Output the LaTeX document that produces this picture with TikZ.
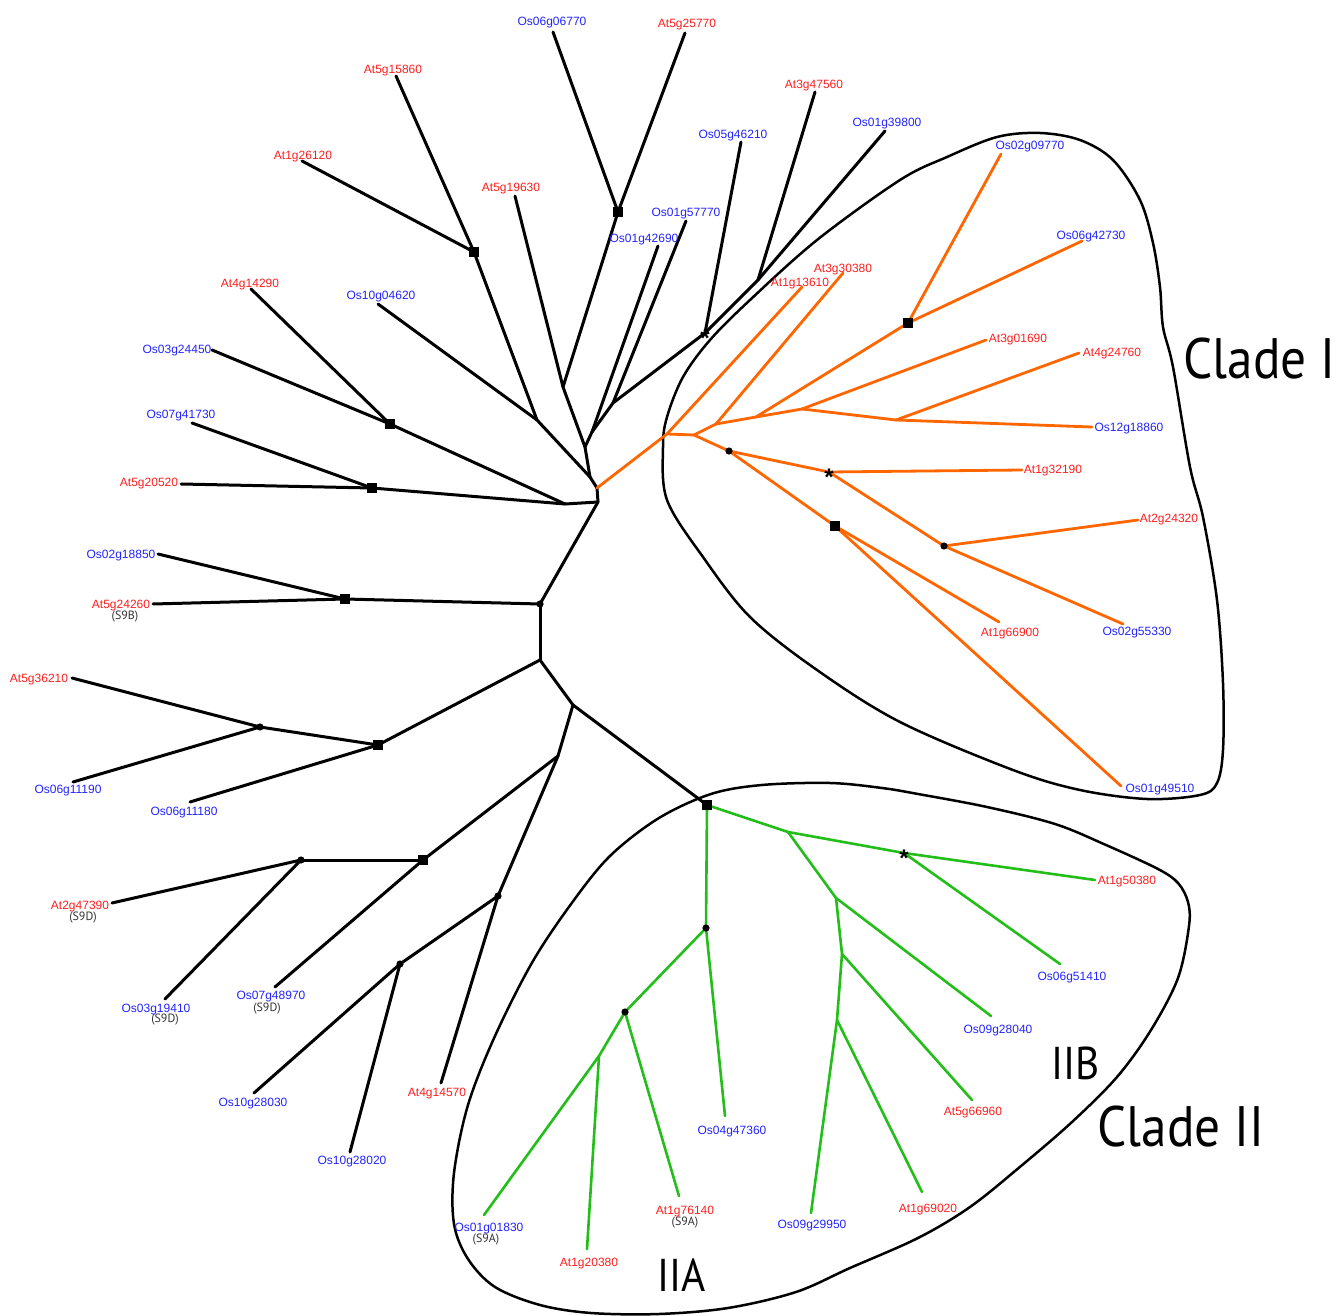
\documentclass[tikz,border=0pt]{standalone}
\usepackage{fontspec}
\usepackage{graphicx}
\setmainfont{Liberation Sans}
\newfontfamily\cladefont{PT Sans}
\definecolor{clred}{RGB}{255,30,30}
\definecolor{clblue}{RGB}{35,35,255}
\definecolor{clorange}{RGB}{255,102,0}
\definecolor{clgreen}{RGB}{35,190,25}
\definecolor{clgray}{RGB}{50,50,50}
\newcommand{\AtL}[2]{\node[lab,text=clred] (t#1) at (#2) {#1};}
\newcommand{\OsL}[2]{\node[lab,text=clblue] (t#1) at (#2) {#1};}
\newcommand{\SubL}[3]{\node[sublab] (#1) at (#2) {(#3)};}
\begin{document}
\begin{tikzpicture}[x=0.5pt,y=-0.5pt,
  br/.style={line width=1.5pt,black,line cap=round,line join=round},
  obr/.style={line width=1.4pt,clorange,line cap=round,line join=round},
  gbr/.style={line width=1.3pt,clgreen,line cap=round,line join=round},
  outl/.style={line width=1.25pt,black},
  sqm/.style={rectangle,fill=black,minimum size=5pt,inner sep=0pt},
  dtm/.style={circle,fill=black,minimum size=3.6pt,inner sep=0pt},
  astm/.style={font=\fontsize{12}{12}\selectfont\bfseries,inner sep=0pt,anchor=base,yshift=-6.6pt},
  lab/.style={font=\fontsize{6}{7}\selectfont,inner sep=0pt,text height=0.716em,text depth=0pt,anchor=center,yshift=1.5pt},
  sublab/.style={font=\cladefont\fontsize{6}{7}\selectfont,text=clgray,inner sep=0pt,anchor=center},
  bigl/.style={font=\cladefont\fontsize{28.5}{30}\selectfont,inner sep=0pt,anchor=base west},
  midl/.style={font=\cladefont\fontsize{23}{25}\selectfont,inner sep=0pt,anchor=base west}]
\useasboundingbox (0,0) rectangle (1335,1316);

% ---------- clade outlines ----------
\draw[outl] plot[smooth cycle,tension=0.55] coordinates {(663,447) (667,500) (703,557) (750,617) (817,670) (900,722) (1013,770) (1080,790) (1147,799) (1200,795) (1217,783) (1223,750) (1223,683) (1217,600) (1203,517) (1190,467) (1173,367) (1163,327) (1160,287) (1153,243) (1140,200) (1113,160) (1080,140) (1040,133) (997,137) (947,157) (900,180) (817,240) (750,300) (710,340) (683,377) (667,417)};
\draw[outl] plot[smooth cycle,tension=0.55] coordinates {(659,818) (711,794) (762,785) (830,783) (882,788) (918,794) (987,807) (1055,824) (1106,845) (1158,869) (1178,883) (1188,902) (1189,926) (1178,978) (1151,1030) (1117,1077) (1072,1122) (1021,1166) (970,1207) (918,1238) (850,1268) (796,1292) (728,1308) (659,1314) (591,1313) (540,1305) (495,1287) (468,1259) (454,1224) (454,1173) (468,1105) (495,1036) (533,961) (574,900) (611,855)};

% ---------- internal coordinates ----------
\coordinate (A) at (598,502);   \coordinate (B) at (597,488);
\coordinate (J) at (590,477);   \coordinate (I) at (585,447);
\coordinate (H) at (592,432);   \coordinate (K) at (563,387);
\coordinate (L) at (537,420);   \coordinate (M) at (613,403);
\coordinate (N) at (705,333);   \coordinate (P) at (758,280);
\coordinate (Q) at (565,504);   \coordinate (D) at (540,604);
\coordinate (E) at (540,660);   \coordinate (F) at (573,705);
\coordinate (G) at (558,756);
\coordinate (sq1) at (618,212); \coordinate (sq2) at (474,252);
\coordinate (sq3) at (390,424); \coordinate (sq4) at (372,488);
\coordinate (sq5) at (345,599); \coordinate (sq6) at (378,745);
\coordinate (d1) at (260,727);  \coordinate (sq7) at (423,860);
\coordinate (d2) at (301,860);  \coordinate (d3) at (498,896);
\coordinate (d4) at (400,964);  \coordinate (sqG) at (707,805);
% orange
\coordinate (O1) at (667,434);  \coordinate (O2) at (694,435);
\coordinate (O3) at (716,424);  \coordinate (O4) at (756,417);
\coordinate (O5) at (802,409);  \coordinate (O6) at (896,420);
\coordinate (sqO) at (908,323); \coordinate (dO1) at (729,451);
\coordinate (astO) at (829,472);\coordinate (dO2) at (944,546);
\coordinate (sqO2) at (835,526);
% green
\coordinate (G1) at (788,832);  \coordinate (astG) at (904,853);
\coordinate (G2) at (836,898);  \coordinate (G3) at (842,954);
\coordinate (G4) at (837,1020); \coordinate (dG1) at (706,928);
\coordinate (dG2) at (625,1012);\coordinate (G5) at (599,1056);

% ---------- leaf ends ----------
\coordinate (eOs06g06770) at (553,32);
\coordinate (eAt5g25770) at (685,33);
\coordinate (eAt5g15860) at (396,76);
\coordinate (eAt1g26120) at (302,161);
\coordinate (eAt5g19630) at (515,196);
\coordinate (eOs01g57770) at (686,221);
\coordinate (eOs01g42690) at (658,246);
\coordinate (eOs05g46210) at (741,142);
\coordinate (eAt3g47560) at (815,92);
\coordinate (eOs01g39800) at (885,131);
\coordinate (eOs10g04620) at (378,304);
\coordinate (eAt4g14290) at (251,289);
\coordinate (eOs03g24450) at (212,350);
\coordinate (eOs07g41730) at (192,423);
\coordinate (eAt5g20520) at (181,484);
\coordinate (eOs02g18850) at (158,554);
\coordinate (eAt5g24260) at (153,604);
\coordinate (eAt5g36210) at (72,678);
\coordinate (eOs06g11190) at (73,782);
\coordinate (eOs06g11180) at (190,802);
\coordinate (eAt2g47390) at (112,903);
\coordinate (eOs03g19410) at (165,999);
\coordinate (eOs07g48970) at (275,987);
\coordinate (eOs10g28030) at (254,1093);
\coordinate (eOs10g28020) at (350,1152);
\coordinate (eAt4g14570) at (441,1083);
\coordinate (eAt1g13610) at (802,287);
\coordinate (eAt3g30380) at (843,273);
\coordinate (eOs02g09770) at (1001,154);
\coordinate (eOs06g42730) at (1082,241);
\coordinate (eAt3g01690) at (986,340);
\coordinate (eAt4g24760) at (1079,353);
\coordinate (eOs12g18860) at (1092,427);
\coordinate (eAt1g32190) at (1022,470);
\coordinate (eAt2g24320) at (1138,520);
\coordinate (eOs02g55330) at (1123,624);
\coordinate (eAt1g66900) at (999,622);
\coordinate (eOs01g49510) at (1121,786);
\coordinate (eAt1g50380) at (1095,880);
\coordinate (eOs06g51410) at (1060,964);
\coordinate (eOs09g28040) at (991,1016);
\coordinate (eAt5g66960) at (972,1100);
\coordinate (eAt1g69020) at (922,1192);
\coordinate (eOs09g29950) at (811,1213);
\coordinate (eOs04g47360) at (725,1116);
\coordinate (eAt1g76140) at (679,1196);
\coordinate (eAt1g20380) at (587,1249);
\coordinate (eOs01g01830) at (484,1215);

% ---------- branches ----------
\foreach \u/\v in {A/B, B/J, J/I, J/L, I/K, I/H, H/eOs01g42690, H/M, M/eOs01g57770, M/N,
  N/eOs05g46210, N/P, P/eAt3g47560, P/eOs01g39800, K/eAt5g19630, K/sq1,
  sq1/eOs06g06770, sq1/eAt5g25770, L/sq2, L/eOs10g04620, sq2/eAt5g15860, sq2/eAt1g26120,
  A/Q, Q/sq3, Q/sq4, sq3/eOs03g24450, sq3/eAt4g14290, sq4/eOs07g41730, sq4/eAt5g20520,
  A/D, D/sq5, sq5/eOs02g18850, sq5/eAt5g24260, D/E, E/sq6, sq6/d1, d1/eAt5g36210,
  d1/eOs06g11190, sq6/eOs06g11180, E/F, F/G, F/sqG, G/sq7, sq7/d2, d2/eAt2g47390,
  d2/eOs03g19410, sq7/eOs07g48970, G/d3, d3/eAt4g14570, d3/d4, d4/eOs10g28030, d4/eOs10g28020}
  \draw[br] (\u) -- (\v);
\foreach \u/\v in {B/O1, O1/eAt1g13610, O1/O2, O2/O3, O3/eAt3g30380, O3/O4, O4/sqO,
  sqO/eOs02g09770, sqO/eOs06g42730, O4/O5, O5/eAt3g01690, O5/O6, O6/eAt4g24760,
  O6/eOs12g18860, O2/dO1, dO1/astO, astO/eAt1g32190, astO/dO2, dO2/eAt2g24320,
  dO2/eOs02g55330, dO1/sqO2, sqO2/eAt1g66900, sqO2/eOs01g49510}
  \draw[obr] (\u) -- (\v);
\foreach \u/\v in {sqG/G1, G1/astG, astG/eAt1g50380, astG/eOs06g51410, G1/G2,
  G2/eOs09g28040, G2/G3, G3/eAt5g66960, G3/G4, G4/eOs09g29950, G4/eAt1g69020,
  sqG/dG1, dG1/eOs04g47360, dG1/dG2, dG2/eAt1g76140, dG2/G5, G5/eOs01g01830, G5/eAt1g20380}
  \draw[gbr] (\u) -- (\v);

% ---------- markers ----------
\foreach \m in {sq1,sq2,sq3,sq4,sq5,sq6,sq7,sqG,sqO,sqO2}
  \node[sqm] (mk\m) at (\m) {};
\foreach \m in {D,d1,d2,d3,d4,dO1,dO2,dG1,dG2}
  \node[dtm] (mk\m) at (\m) {};
\node[astm] (mkN) at (N) {*};
\node[astm] (mkastO) at (astO) {*};
\node[astm] (mkastG) at (astG) {*};

% ---------- labels ----------
\OsL{Os06g06770}{552,21}
\AtL{At5g25770}{687,23}
\AtL{At5g15860}{393,69}
\AtL{At1g26120}{303,155}
\AtL{At5g19630}{511,187}
\OsL{Os01g57770}{686,212}
\OsL{Os01g42690}{644,238}
\OsL{Os05g46210}{733,134}
\AtL{At3g47560}{814,84}
\OsL{Os01g39800}{887,122}
\OsL{Os02g09770}{1030,145}
\OsL{Os06g42730}{1091,235}
\AtL{At3g30380}{843,268}
\AtL{At1g13610}{800,282}
\AtL{At3g01690}{1018,338}
\AtL{At4g24760}{1112,352}
\OsL{Os12g18860}{1129,427}
\AtL{At1g32190}{1053,469}
\AtL{At2g24320}{1169,518}
\AtL{At1g66900}{1010,632}
\OsL{Os02g55330}{1137,631}
\OsL{Os01g49510}{1160,788}
\AtL{At4g14290}{250,283}
\OsL{Os10g04620}{381,295}
\OsL{Os03g24450}{177,349}
\OsL{Os07g41730}{181,414}
\AtL{At5g20520}{149,482}
\OsL{Os02g18850}{121,554}
\AtL{At5g24260}{121,604}
\SubL{s9b}{125,617}{S9B}
\AtL{At5g36210}{39,678}
\OsL{Os06g11190}{68,789}
\OsL{Os06g11180}{184,811}
\AtL{At2g47390}{80,905}
\SubL{s9d1}{83,918}{S9D}
\OsL{Os03g19410}{156,1008}
\SubL{s9d2}{165,1020}{S9D}
\OsL{Os07g48970}{271,995}
\SubL{s9d3}{267,1009}{S9D}
\OsL{Os10g28030}{253,1102}
\OsL{Os10g28020}{352,1160}
\AtL{At4g14570}{437,1092}
\OsL{Os01g01830}{489,1227}
\SubL{s9a1}{486,1240}{S9A}
\AtL{At1g20380}{589,1262}
\AtL{At1g76140}{685,1210}
\SubL{s9a2}{685,1223}{S9A}
\OsL{Os04g47360}{732,1130}
\OsL{Os09g29950}{812,1224}
\AtL{At1g69020}{928,1208}
\AtL{At5g66960}{973,1111}
\OsL{Os09g28040}{998,1029}
\OsL{Os06g51410}{1072,976}
\AtL{At1g50380}{1127,880}

% ---------- clade names ----------
\node[bigl] (cladeI) at (1183,379) {\scalebox{0.9}[1]{Clade I}};
\node[bigl] (cladeII) at (1097,1146) {\scalebox{0.9}[1]{Clade II}};
\node[midl] (iib) at (1051,1079) {\scalebox{0.9}[1]{IIB}};
\node[midl] (iia) at (657,1291) {\scalebox{0.9}[1]{IIA}};
\end{tikzpicture}
\end{document}
